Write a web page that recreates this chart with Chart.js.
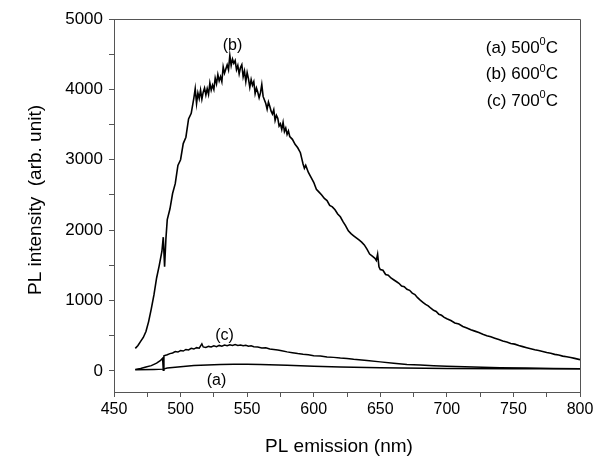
<!DOCTYPE html>
<html>
<head>
<meta charset="utf-8">
<script src="https://cdn.jsdelivr.net/npm/chart.js@4"></script>
<style>
  html, body { margin: 0; padding: 0; background: #fff; }
</style>
</head>
<body>
<canvas id="plChart" width="604" height="464"></canvas>
<script>
// ===== Data =====
const wavelengthB = [466,468,470,472,474,476,478,480,482,484,486,487,488,489,
  490,492,494,496,498,500,502,504,506,508,510,511,512,513,514,515,516,517,518,519,520,521,522,523,524,525,
  526,527,528,529,530,531,532,533,534,535,536,537,538,539,540,541,542,543,544,545,546,547,548,549,550,551,
  552,553,554,555,556,557,558,559,560,561,562,563,564,565,566,567,568,569,570,571,572,573,574,575,576,577,
  578,579,580,581,582,584,586,588,590,591,592,593,594,596,598,600,602,604,606,608,610,612,614,616,618,620,
  622,624,626,628,630,632,634,636,638,640,642,644,646,647,648,649,650,652,654,656,658,660,662,664,666,668,
  670,672,674,676,678,680,682,684,686,688,690,692,694,696,698,700,703,706,709,712,715,718,721,724,727,730,
  733,736,739,742,745,748,751,754,757,760,763,766,769,772,775,778,781,784,787,790,793,796,800];
const intensityB = [320,360,420,475,560,700,880,1080,1320,1500,1700,1900,1480,1880,
  2150,2300,2520,2660,2920,3000,3230,3320,3580,3660,3880,4010,3800,3950,3870,3990,3860,3960,4020,3920,4010,3930,4090,3990,4060,4000,
  4160,4080,4210,4120,4180,4110,4320,4230,4290,4350,4280,4480,4340,4430,4370,4410,4280,4340,4220,4310,4350,4180,4260,4110,4240,4150,
  4030,4140,4060,4110,3940,4020,3960,3880,3950,4070,3900,3850,3800,3720,3820,3760,3690,3650,3710,3560,3630,3590,3480,3510,3430,3530,
  3400,3450,3360,3410,3330,3290,3220,3170,3100,3020,2940,2880,2920,2820,2750,2680,2580,2540,2500,2450,2420,2350,2330,2290,2230,2190,
  2120,2060,1990,1950,1920,1890,1860,1830,1790,1730,1660,1630,1600,1570,1660,1480,1440,1430,1370,1360,1320,1295,1270,1245,1205,1195,
  1160,1145,1105,1085,1040,1005,975,945,925,890,860,845,805,790,760,740,715,680,665,630,610,585,565,545,520,500,
  485,465,445,425,410,390,380,360,345,330,315,300,290,275,260,250,235,225,210,200,190,178,160];

const wavelengthC = [466,470,474,478,482,485,486.5,487,487.5,490,492,494,496,498,500,502,504,506,508,510,512,514,516,517,
  519,521,523,525,527,529,531,533,535,537,539,541,543,545,547,549,551,553,555,558,561,564,567,570,573,576,580,584,588,
  592,596,600,605,610,615,620,625,630,640,650,660,670,680,690,700,720,740,760,780,800];
const intensityC = [20,35,55,75,110,150,180,10,215,230,245,255,275,268,290,282,305,298,320,310,330,322,385,340,
  332,348,340,356,345,362,352,368,358,372,360,374,362,368,356,364,350,358,344,340,325,330,312,305,296,285,270,258,246,
  236,228,215,210,198,192,182,176,165,148,128,108,92,82,72,66,55,46,40,35,30];

const wavelengthA = [466,480,487,490,500,510,520,530,540,550,560,580,600,620,650,700,750,800];
const intensityA = [15,20,25,40,60,75,85,90,95,95,90,80,65,55,45,35,30,30];

const xTicks = [450,475,500,525,550,575,600,625,650,675,700,725,750,775,800];
const yTicks = [0,500,1000,1500,2000,2500,3000,3500,4000,4500,5000];

const seriesNames = ['(a)', '(b)', '(c)'];
const temperatures = [500, 600, 700];
// curve tags: [label, wavelength, intensity]
const curveTags = [['(b)', 539, 4620], ['(c)', 533, 505], ['(a)', 527, -135]];

const xTitle = 'PL emission (nm)';
const yTitle = 'PL intensity  (arb. unit)';

// ===== Helpers =====
const font = '"Liberation Sans", Arial, Helvetica, sans-serif';
const axisColor = '#555';
const toPoints = (xs, ys) => xs.map((x, i) => ({ x, y: ys[i] }));

// ===== Decorations: frame, curve tags, legend text, axis titles =====
const decor = {
  id: 'decor',
  afterDraw(chart) {
    const { ctx, chartArea: a, scales: { x, y } } = chart;
    ctx.save();
    ctx.strokeStyle = axisColor;
    ctx.lineWidth = 1;
    ctx.beginPath();
    ctx.moveTo(a.left, a.top + 0.5);
    ctx.lineTo(a.right + 0.5, a.top + 0.5);
    ctx.lineTo(a.right + 0.5, a.bottom);
    ctx.stroke();

    ctx.fillStyle = '#000';
    ctx.textAlign = 'center';
    ctx.textBaseline = 'middle';
    ctx.font = `16px ${font}`;
    curveTags.forEach(([t, nm, v]) => ctx.fillText(t, x.getPixelForValue(nm), y.getPixelForValue(v)));

    // legend block, right aligned
    const right = a.right - 22;
    seriesNames.forEach((name, i) => {
      const rowY = a.top + 29 + i * 26.5;
      const main = `${name} ${temperatures[i]}`;
      ctx.font = `17px ${font}`;
      const w1 = ctx.measureText(main).width, w3 = ctx.measureText('C').width;
      ctx.font = `11px ${font}`;
      const w2 = ctx.measureText('0').width;
      const cx = right - (w1 + w2 + w3);
      ctx.textAlign = 'left';
      ctx.font = `17px ${font}`;
      ctx.fillText(main, cx, rowY);
      ctx.font = `11px ${font}`;
      ctx.fillText('0', cx + w1, rowY - 6);
      ctx.font = `17px ${font}`;
      ctx.fillText('C', cx + w1 + w2, rowY);
    });

    // axis titles
    ctx.textAlign = 'center';
    ctx.font = `19px ${font}`;
    ctx.fillText(xTitle, a.left + 225, a.bottom + 55);
    ctx.translate(36, a.top + 181);
    ctx.rotate(-Math.PI / 2);
    ctx.fillText(yTitle, 0, 0);
    ctx.restore();
  }
};

// ===== Chart =====
const line = (xs, ys, w) => ({
  data: toPoints(xs, ys), borderColor: '#000', borderWidth: w,
  pointRadius: 0, tension: 0, fill: false
});

new Chart(document.getElementById('plChart'), {
  type: 'line',
  data: {
    datasets: [
      line(wavelengthA, intensityA, 1.5),
      line(wavelengthB, intensityB, 1.6),
      line(wavelengthC, intensityC, 1.5)
    ]
  },
  options: {
    responsive: false, animation: false,
    layout: { padding: { left: 0, top: 19, right: 24, bottom: 0 } },
    plugins: { legend: { display: false }, tooltip: { enabled: false } },
    scales: {
      x: {
        type: 'linear', min: 450, max: 800,
        afterFit: s => { s.height = 72; },
        afterBuildTicks: s => { s.ticks = xTicks.map(v => ({ value: v })); },
        border: { color: axisColor, width: 1 },
        grid: { drawOnChartArea: false, tickLength: 5, color: axisColor },
        ticks: {
          autoSkip: false, maxRotation: 0, padding: 3, color: '#000',
          font: { family: font, size: 16 },
          callback: v => (v % 50 === 0 ? v : '')
        }
      },
      y: {
        type: 'linear', min: -300, max: 5000,
        afterFit: s => { s.width = 114; },
        afterBuildTicks: s => { s.ticks = yTicks.map(v => ({ value: v })); },
        border: { color: axisColor, width: 1 },
        grid: { drawOnChartArea: false, tickLength: 5, color: axisColor },
        ticks: {
          autoSkip: false, padding: 6, color: '#000',
          font: { family: font, size: 17 },
          callback: v => (v % 1000 === 0 ? v : '')
        }
      }
    }
  },
  plugins: [decor]
});
</script>
</body>
</html>
